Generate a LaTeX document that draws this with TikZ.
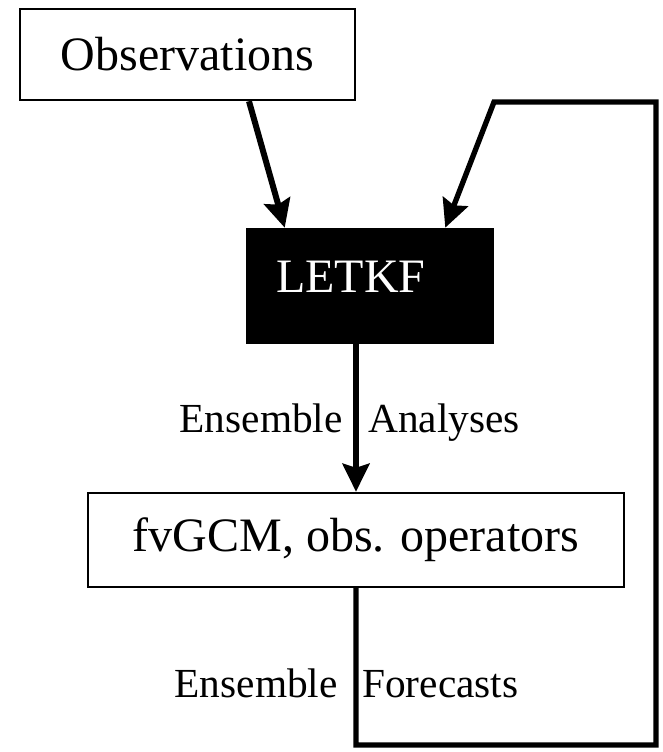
\documentclass[tikz,border=0pt]{standalone}
\usepackage{fontspec}
\setmainfont{Liberation Serif}
\usetikzlibrary{arrows.meta}
\begin{document}
\begin{tikzpicture}[x=0.75pt,y=-0.75pt,
 box/.style={draw=black, line width=1.8pt, fill=white, inner sep=0pt},
 bigtext/.style={font=\fontsize{36}{40}\selectfont},
 lbl/.style={font=\fontsize{31}{35}\selectfont, inner sep=0pt},
 flow/.style={line width=4.5pt, -{Stealth[length=21pt,width=20pt,inset=3pt]}},
 loopline/.style={line width=4pt, line join=miter, -{Stealth[length=21pt,width=20pt,inset=3pt]}}]
\useasboundingbox (0,0) rectangle (662,752);
\node[box, bigtext, minimum width=251.25pt, minimum height=68.25pt] (obs) at (187.5,54.5) {Observations};
\node[fill=black, inner sep=0pt, minimum width=186pt, minimum height=87pt] (letkf) at (370,286) {};
\node[bigtext, text=white, anchor=base west, inner sep=0pt] (letkftext) at (276,292) {LETKF};
\node[box, bigtext, minimum width=402pt, minimum height=70.5pt] (fv) at (356,540) {fvGCM, obs. operators};
\node[lbl, anchor=base east] (ea1) at (343,432) {Ensemble};
\node[lbl, anchor=base west] (ea2) at (368,432) {Analyses};
\node[lbl, anchor=base east] (ef1) at (338,697) {Ensemble};
\node[lbl, anchor=base west] (ef2) at (362,697) {Forecasts};
\coordinate (lb) at (356,745);
\coordinate (rb) at (656,745);
\coordinate (rt) at (656,102);
\coordinate (lt) at (494,102);
\draw[flow] ([xshift=46.1pt]obs.south) -- ([xshift=29.25pt]letkf.north west);
\draw[flow] (fv.north |- letkf.south) -- (fv.north);
\draw[loopline] (fv.south) -- (lb) -- (rb) -- (rt) -- (lt) -- ([xshift=-36.75pt]letkf.north east);
\end{tikzpicture}
\end{document}
